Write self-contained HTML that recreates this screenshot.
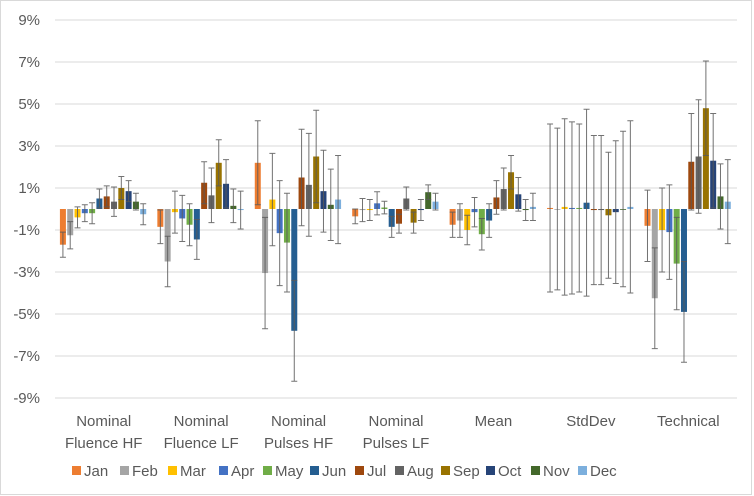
<!DOCTYPE html>
<html><head><meta charset="utf-8"><style>
body{margin:0;background:#fff;}
svg{display:block;font-family:"Liberation Sans",sans-serif;}
</style></head><body>
<svg id="chart" width="754" height="496">
<rect x="0.5" y="0.5" width="751" height="494" fill="#fff" stroke="#d9d9d9"/>
<g id="grid"></g><g id="bars"></g><g id="errs"></g><g id="labels"></g><g id="legend"></g>
</svg>
<script>
const categories=[["Nominal","Fluence HF"],["Nominal","Fluence LF"],["Nominal","Pulses HF"],["Nominal","Pulses LF"],["Mean"],["StdDev"],["Technical"]];
const months=["Jan","Feb","Mar","Apr","May","Jun","Jul","Aug","Sep","Oct","Nov","Dec"];
const colors=["#ED7D31","#A5A5A5","#FFC000","#4472C4","#70AD47","#255E91","#9E480E","#636363","#997300","#264478","#43682B","#7CAFDD"];
const yTicks=[9,7,5,3,1,-1,-3,-5,-7,-9];
const fluenceHF=[-1.7,-1.25,-0.4,-0.2,-0.2,0.5,0.6,0.35,1.0,0.85,0.35,-0.25];
const fluenceHFerr=[0.6,0.65,0.5,0.4,0.5,0.45,0.5,0.7,0.55,0.5,0.4,0.5];
const fluenceLF=[-0.85,-2.5,-0.15,-0.45,-0.75,-1.45,1.25,0.65,2.2,1.2,0.15,-0.05];
const fluenceLFerr=[0.8,1.2,1.0,1.1,1.0,0.95,1.0,1.3,1.1,1.15,0.8,0.9];
const pulsesHF=[2.2,-3.05,0.45,-1.15,-1.6,-5.8,1.5,1.15,2.5,0.85,0.2,0.45];
const pulsesHFerr=[2.0,2.65,2.2,2.5,2.35,2.4,2.3,2.45,2.2,1.95,1.7,2.1];
const pulsesLF=[-0.35,-0.05,-0.05,0.27,0.07,-0.85,-0.7,0.5,-0.65,-0.05,0.8,0.35];
const pulsesLFerr=[0.35,0.55,0.5,0.55,0.3,0.5,0.45,0.55,0.5,0.5,0.35,0.4];
const meanV=[-0.75,-0.55,-1.0,-0.15,-1.2,-0.55,0.55,0.95,1.75,0.7,-0.05,0.1];
const meanErr=[0.6,0.8,0.7,0.7,0.75,0.8,0.8,1.0,0.8,0.8,0.5,0.65];
const stdV=[0.05,0.0,0.1,0.05,0.05,0.3,-0.05,-0.05,-0.3,-0.15,0.0,0.1];
const stdErr=[4.0,3.85,4.2,4.1,4.0,4.45,3.55,3.55,3.0,3.4,3.7,4.1];
const techV=[-0.8,-4.25,-1.0,-1.1,-2.6,-4.9,2.25,2.5,4.8,2.3,0.6,0.35];
const techErr=[1.7,2.4,2.0,2.25,2.2,2.4,2.3,2.7,2.25,2.25,1.55,2.0];
const values=[fluenceHF,fluenceLF,pulsesHF,pulsesLF,meanV,stdV,techV];
const errors=[fluenceHFerr,fluenceLFerr,pulsesHFerr,pulsesLFerr,meanErr,stdErr,techErr];

const NS="http://www.w3.org/2000/svg";
const X0=55,X1=737,Y9=20,Ym9=398;
const y=v=>Y9+(9-v)*(Ym9-Y9)/18;
const gw=(X1-X0)/categories.length, pitch=7.3, bw=6;
const x=(g,m)=>X0+g*gw+(gw-12*pitch)/2+m*pitch;
function mk(t,a,p){const e=document.createElementNS(NS,t);for(const k in a)e.setAttribute(k,a[k]);p.appendChild(e);return e;}
const grid=document.getElementById('grid'),bars=document.getElementById('bars'),errs=document.getElementById('errs'),labels=document.getElementById('labels'),legend=document.getElementById('legend');
yTicks.forEach(t=>{
  const l=mk('line',{x1:X0,x2:X1,y1:y(t),y2:y(t),stroke:'#d9d9d9','stroke-width':1},grid);
  
  
  const tx=mk('text',{x:40,y:y(t)+5,'text-anchor':'end','font-size':15,fill:'#595959'},labels);
  tx.textContent=t+'%';
  
  
});
values.forEach((arr,g)=>{
  arr.forEach((v,m)=>{
    const xx=x(g,m),y0=y(0),yv=y(v);
    const r=mk('rect',{x:xx,y:Math.min(y0,yv),width:bw,height:Math.max(Math.abs(yv-y0),0.8),fill:colors[m]},bars);
    
    
    const e=errors[g][m],cx=xx+bw/2,ya=y(v+e),yb=y(v-e);
    const p=mk('path',{d:`M${cx},${ya}V${yb}M${cx-3},${ya}H${cx+3}M${cx-3},${yb}H${cx+3}`,stroke:'#595959','stroke-width':1,fill:'none',opacity:0.85},errs);
    
    
  });
  categories[g].forEach((s,i)=>{
    const t=mk('text',{x:X0+g*gw+gw/2,y:426+i*22,'text-anchor':'middle','font-size':15,fill:'#595959'},labels);
    t.textContent=s;
    
    
  });
});
const lx=[72,120,168,219,263,310,355,395,441,486,531,578];
months.forEach((mo,i)=>{
  const s=mk('rect',{x:lx[i],y:466,width:9,height:9,fill:colors[i]},legend);
  
  
  const t=mk('text',{x:lx[i]+12,y:476,'font-size':15,fill:'#595959'},legend);
  t.textContent=mo;
  
  
});
</script>
</body></html>
